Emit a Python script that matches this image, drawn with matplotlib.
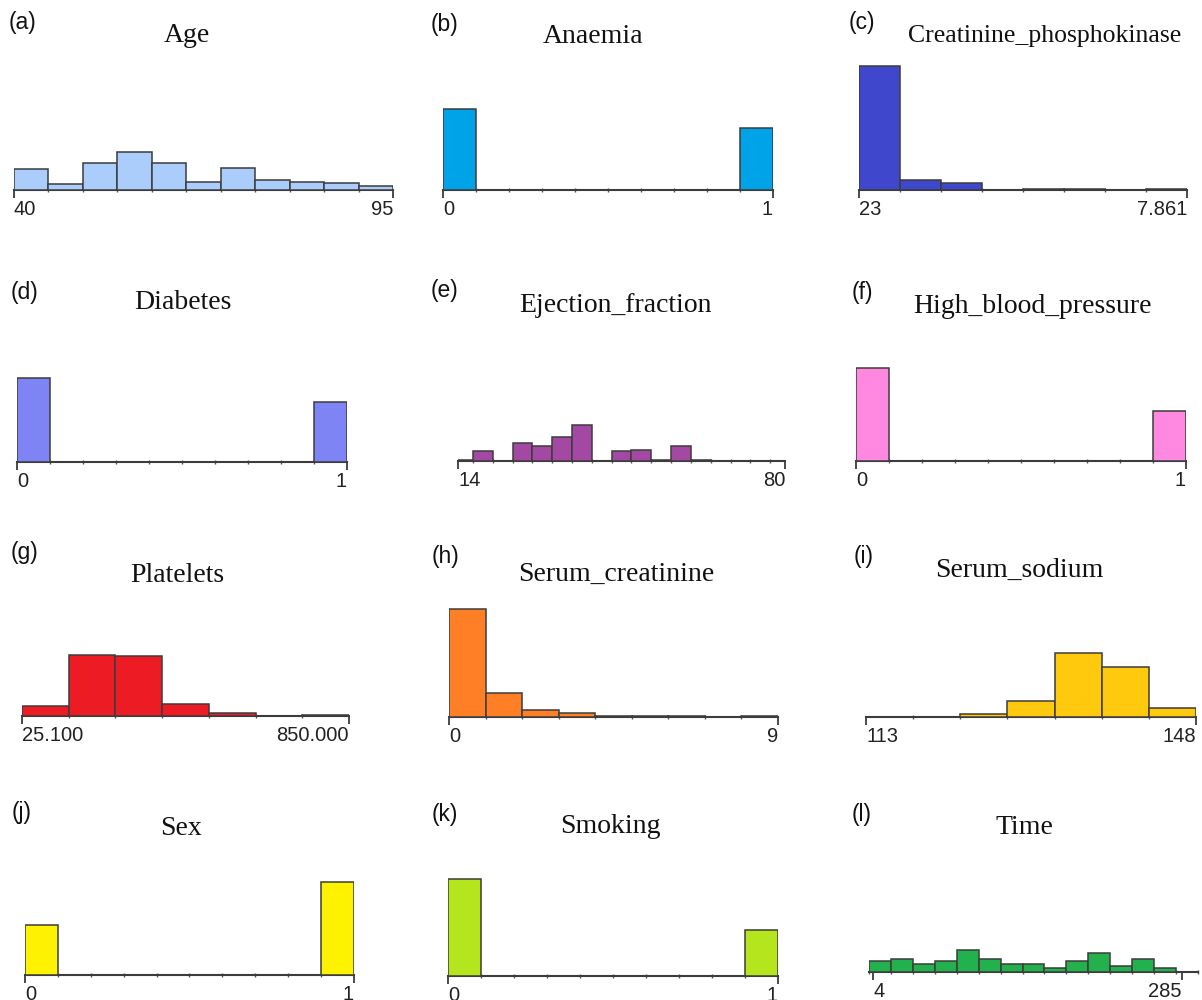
import numpy as np
import matplotlib
matplotlib.use("Agg")
import matplotlib.pyplot as plt

# ---------------- data (counts) ----------------
titles = ["Age", "Anaemia", "Creatinine_phosphokinase", "Diabetes",
          "Ejection_fraction", "High_blood_pressure", "Platelets",
          "Serum_creatinine", "Serum_sodium", "Sex", "Smoking", "Time"]
letters = ["(a)", "(b)", "(c)", "(d)", "(e)", "(f)",
           "(g)", "(h)", "(i)", "(j)", "(k)", "(l)"]
colors = ["#abcdfb", "#00a2e8", "#3f48cc", "#7f84f5", "#a349a4", "#ff88e0",
          "#ed1c24", "#ff7f27", "#ffc90e", "#fff200", "#b5e61d", "#22b14c"]

age_edges = [40, 45, 50, 55, 60, 65, 70, 75, 80, 85, 90, 95]
age_counts = [44, 13, 56, 80, 56, 16, 45, 21, 17, 14, 9]

binary_edges = [0, 0.1, 0.2, 0.3, 0.4, 0.5, 0.6, 0.7, 0.8, 0.9, 1.0]
anaemia_counts = [170, 129]
diabetes_counts = [174, 125]
hbp_counts = [194, 105]
sex_counts = [105, 194]
smoking_counts = [203, 96]

cpk_range = [23, 7861]
cpk_counts = [259, 20, 14, 0, 2, 2, 0, 2]

ef_edges = [14, 17, 21, 25, 29, 33, 37, 41, 45, 49, 53, 57, 61, 65, 69, 73, 77, 80]
ef_counts = [2, 20, 0, 38, 32, 51, 76, 0, 20, 24, 2, 31, 2, 1, 1, 0, 1]

platelets_range = [25100, 850000]
platelets_counts = [19, 127, 124, 23, 5, 0, 1]

sc_edges = [0, 1, 2, 3, 4, 5, 6, 7, 8, 9]
sc_counts = [225, 49, 14, 7, 2, 1, 1, 0, 1]

sodium_edges = [113, 118, 123, 128, 133, 138, 143, 148]
sodium_counts = [1, 1, 6, 33, 134, 104, 18]

time_edges = [0, 20, 40, 60, 80, 100, 120, 140, 160, 180, 200, 220, 240, 260, 280, 300]
time_counts = [22, 28, 16, 24, 45, 28, 16, 17, 9, 24, 40, 13, 28, 9, 0]

tick_values = [[40, 95], [0, 1], [23, 7861], [0, 1], [14, 80], [0, 1],
               [25100, 850000], [0, 9], [113, 148], [0, 1], [0, 1], [4, 285]]
tick_labels = [["40", "95"], ["0", "1"], ["23", "7.861"], ["0", "1"],
               ["14", "80"], ["0", "1"], ["25.100", "850.000"], ["0", "9"],
               ["113", "148"], ["0", "1"], ["0", "1"], ["4", "285"]]


def binary(c):
    full = np.zeros(len(binary_edges) - 1)
    full[0], full[-1] = c[0], c[-1]
    return np.array(binary_edges), full


series = [
    (np.array(age_edges), np.array(age_counts)),
    binary(anaemia_counts),
    (np.linspace(cpk_range[0], cpk_range[1], len(cpk_counts) + 1), np.array(cpk_counts)),
    binary(diabetes_counts),
    (np.array(ef_edges), np.array(ef_counts)),
    binary(hbp_counts),
    (np.linspace(platelets_range[0], platelets_range[1], len(platelets_counts) + 1),
     np.array(platelets_counts)),
    (np.array(sc_edges), np.array(sc_counts)),
    (np.array(sodium_edges), np.array(sodium_counts)),
    binary(sex_counts),
    binary(smoking_counts),
    (np.array(time_edges), np.array(time_counts)),
]

# ---------------- layout (pixels) ----------------
W, H = 1202, 1000
# axis line x0, x1, baseline y
axes_px = [(14, 393, 190), (443, 773, 190), (859, 1187, 190),
           (17, 347, 461.5), (458, 785, 461), (856, 1186, 461),
           (22, 349, 715.5), (449, 778, 716.5), (866, 1196, 717),
           (25, 354, 975), (448, 778, 976), (869, 1198, 972)]
title_px = [(187, 42), (593, 43), (1045, 42),
            (183, 309), (615, 312), (1032, 313),
            (177, 582), (616, 581), (1019, 577),
            (181, 835), (610, 833), (1024, 834)]
letter_px = [(9, 22), (431, 25), (849, 23),
             (11, 293), (431, 290), (852, 292),
             (11, 553), (432, 557), (854, 557),
             (12, 813), (432, 814), (852, 815)]
title_sizes = [20, 20, 18.5, 20, 20, 20, 20, 20, 20, 20, 20, 20]

PX_PER_COUNT = 0.479
AX_H = 140
EDGE = "#3c3c3c"

fig = plt.figure(figsize=(W / 100, H / 100), dpi=100)

for i in range(12):
    x0, x1, base = axes_px[i]
    ax = fig.add_axes([x0 / W, 1 - base / H, (x1 - x0) / W, AX_H / H])
    edges, counts = series[i]
    ax.bar(edges[:-1], counts, width=np.diff(edges), align="edge",
           color=colors[i], edgecolor=EDGE, linewidth=1.1, zorder=3)
    ax.set_xlim(edges[0], edges[-1])
    ax.set_ylim(0, AX_H / PX_PER_COUNT)
    for s in ["top", "left", "right"]:
        ax.spines[s].set_visible(False)
    ax.spines["bottom"].set_color(EDGE)
    ax.spines["bottom"].set_linewidth(1.5)
    ax.set_yticks([])
    ax.set_xticks(tick_values[i])
    ax.set_xticklabels(tick_labels[i], fontsize=14.5, family="Liberation Sans",
                       color="#222222")
    ax.set_xticks(edges, minor=True)
    ax.tick_params(axis="x", which="major", direction="out", length=5.5,
                   width=1.3, color=EDGE, pad=2)
    ax.tick_params(axis="x", which="minor", direction="inout", length=2.5,
                   width=1.0, color="#555555")
    labs = ax.get_xticklabels()
    labs[0].set_ha("left")
    labs[-1].set_ha("right")
    ax.patch.set_visible(False)

    tx, ty = title_px[i]
    fig.text(tx / W, 1 - ty / H, titles[i], ha="center", va="baseline",
             fontsize=title_sizes[i], family="Liberation Serif", color="#111111")
    lx, ly = letter_px[i]
    fig.text(lx / W, 1 - ly / H, letters[i], ha="left", va="center",
             fontsize=16.5, family="Liberation Sans", color="#111111")

fig.savefig("out.png", dpi=100, facecolor="white")
